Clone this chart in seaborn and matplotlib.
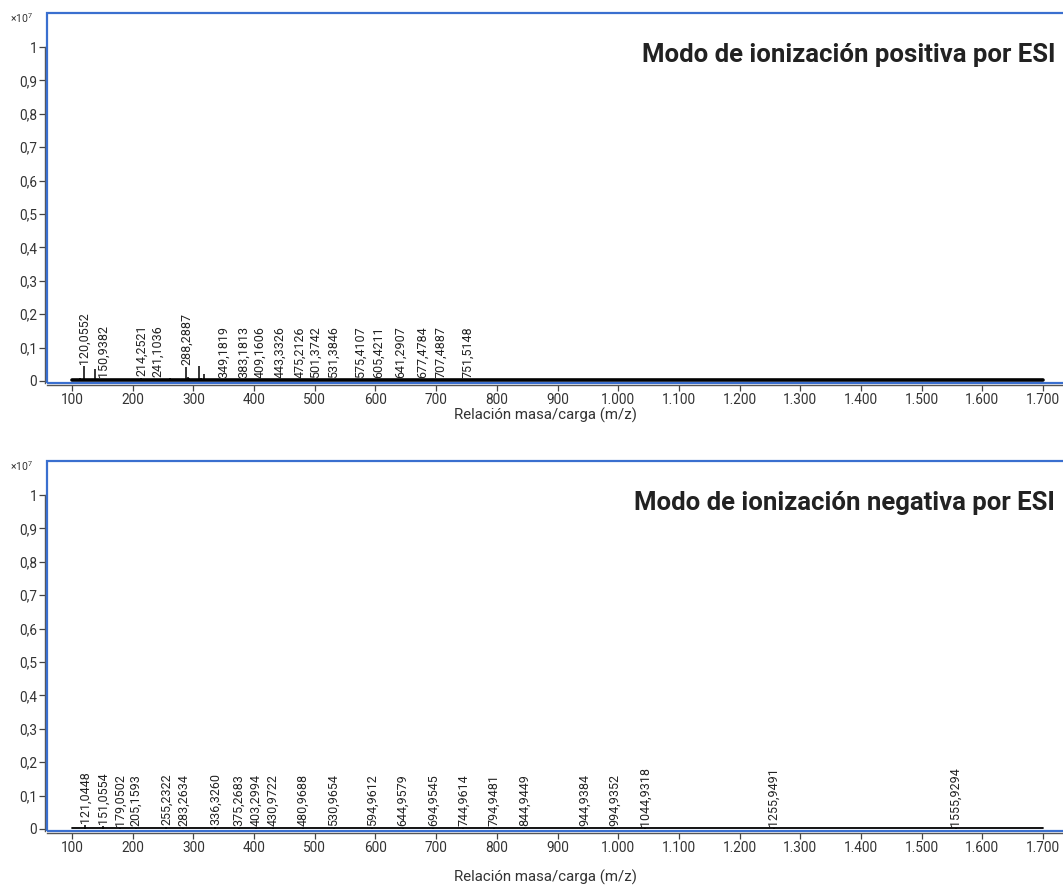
import numpy as np
import pandas as pd
import matplotlib
matplotlib.use("Agg")
import matplotlib.pyplot as plt
from matplotlib.ticker import FuncFormatter, FixedLocator
from matplotlib.patches import Rectangle
import seaborn as sns

# ---------------- data (intensities in units of 1e7 counts) ----------------
pos_label_mz = [120.0552, 150.9382, 214.2521, 241.1036, 288.2887, 349.1819, 383.1813,
                409.1606, 443.3326, 475.2126, 501.3742, 531.3846, 575.4107, 605.4211,
                641.2907, 677.4784, 707.4887, 751.5148]
pos_label_int = [0.045, 0.006, 0.008, 0.005, 0.042, 0.004, 0.004,
                 0.004, 0.004, 0.004, 0.004, 0.004, 0.004, 0.004,
                 0.004, 0.004, 0.004, 0.004]
pos_other_mz = [113.0, 131.0, 137.5, 262.0, 291.0, 293.5, 309.0, 312.0, 317.0]
pos_other_int = [0.008, 0.006, 0.036, 0.008, 0.012, 0.008, 0.045, 0.008, 0.020]

neg_label_mz = [121.0448, 151.0554, 179.0502, 205.1593, 255.2322, 283.2634, 336.3260,
                375.2683, 403.2994, 430.9722, 480.9688, 530.9654, 594.9612, 644.9579,
                694.9545, 744.9614, 794.9481, 844.9449, 944.9384, 994.9352, 1044.9318,
                1255.9491, 1555.9294]
neg_label_int = [0.012, 0.008, 0.004, 0.004, 0.005, 0.004, 0.005,
                 0.004, 0.004, 0.004, 0.004, 0.004, 0.004, 0.004,
                 0.004, 0.004, 0.004, 0.004, 0.004, 0.004, 0.004,
                 0.004, 0.004]

mz_range = [100, 1700]
baseline_level = [0.002, 0.002]

x_ticks = [100, 200, 300, 400, 500, 600, 700, 800, 900, 1000, 1100, 1200, 1300, 1400, 1500, 1600, 1700]
y_ticks = [0, 0.1, 0.2, 0.3, 0.4, 0.5, 0.6, 0.7, 0.8, 0.9, 1.0]

titles = ["Modo de ionización positiva por ESI", "Modo de ionización negativa por ESI"]
x_label = "Relación masa/carga (m/z)"

# ---------------- style ----------------
sns.set_theme(style="white")
plt.rcParams['font.family'] = ['Roboto', 'DejaVu Sans']
plt.rcParams['mathtext.fontset'] = 'custom'
plt.rcParams['mathtext.rm'] = 'Roboto'

BLUE = "#3a6fcf"
TXT = "#333333"

W, H = 1063, 886
fig = plt.figure(figsize=(W / 100, H / 100), dpi=100)

def fig_rect(left_px, top_px, bottom_px, width_px):
    return [left_px / W, 1 - bottom_px / H, width_px / W, (bottom_px - top_px) / H]

ax_top = fig.add_axes(fig_rect(47, 13, 383, 1031))
ax_bot = fig.add_axes(fig_rect(47, 461, 831, 1031))

def thousands(v, pos):
    return f"{int(round(v)):,}".replace(",", ".")

def comma_dec(v, pos):
    if abs(v) < 1e-9:
        return "0"
    if abs(v - 1) < 1e-9:
        return "1"
    return f"{v:.1f}".replace(".", ",")

def draw_panel(ax, label_mz, label_int, other_mz, other_int, base_lw, title):
    # baseline
    sns.lineplot(x=mz_range, y=baseline_level, ax=ax, color="black", linewidth=base_lw,
                 estimator=None, sort=False)
    all_mz = list(label_mz) + list(other_mz)
    all_int = list(label_int) + list(other_int)
    ax.vlines(all_mz, 0, all_int, color="black", linewidth=1.1)
    for mz, h in zip(label_mz, label_int):
        ax.annotate(f"{mz:.4f}".replace(".", ","), xy=(mz, h), xytext=(0, 1.5),
                    textcoords="offset points", rotation=90, ha="center", va="bottom",
                    fontsize=9, color="#222222")
    ax.set_xlim(58.8, 1757.6)
    ax.set_ylim(-0.006, 1.102)
    ax.xaxis.set_major_locator(FixedLocator(x_ticks))
    ax.yaxis.set_major_locator(FixedLocator(y_ticks))
    ax.xaxis.set_major_formatter(FuncFormatter(thousands))
    ax.yaxis.set_major_formatter(FuncFormatter(comma_dec))
    ax.tick_params(axis="both", which="major", direction="out", length=4, width=0.9,
                   colors="#444444", labelsize=9.8, labelcolor=TXT, pad=1.5,
                   bottom=True, left=True)
    for s in ["top", "right"]:
        ax.spines[s].set_visible(False)
    for s in ["left", "bottom"]:
        ax.spines[s].set_visible(True)
        ax.spines[s].set_color("#555555")
        ax.spines[s].set_linewidth(1.0)
        ax.spines[s].set_position(("outward", 1.5))
    ax.spines["left"].set_bounds(-0.006, 1.0)
    ax.add_patch(Rectangle((0, 0), 1, 1, transform=ax.transAxes, fill=False,
                           edgecolor=BLUE, linewidth=1.6, clip_on=False, zorder=5))
    ax.text(0.9777, 0.887, title, transform=ax.transAxes, ha="right", va="center",
            fontsize=18.5, fontweight="bold", color="#222222")
    ax.text(-0.0359, 0.986, r"×10$^{7}$", transform=ax.transAxes, ha="left", va="center",
            fontsize=7.5, color=TXT)
    ax.set_xlabel("")
    ax.set_ylabel("")
    ax.grid(False)

draw_panel(ax_top, pos_label_mz, pos_label_int, pos_other_mz, pos_other_int, 2.6, titles[0])
draw_panel(ax_bot, neg_label_mz, neg_label_int, [], [], 1.3, titles[1])

fig.text(545 / W, 1 - 415 / H, x_label, ha="center", va="center", fontsize=10.8, color=TXT)
fig.text(545 / W, 1 - 877 / H, x_label, ha="center", va="center", fontsize=10.8, color=TXT)

fig.savefig("out.png", dpi=100)
